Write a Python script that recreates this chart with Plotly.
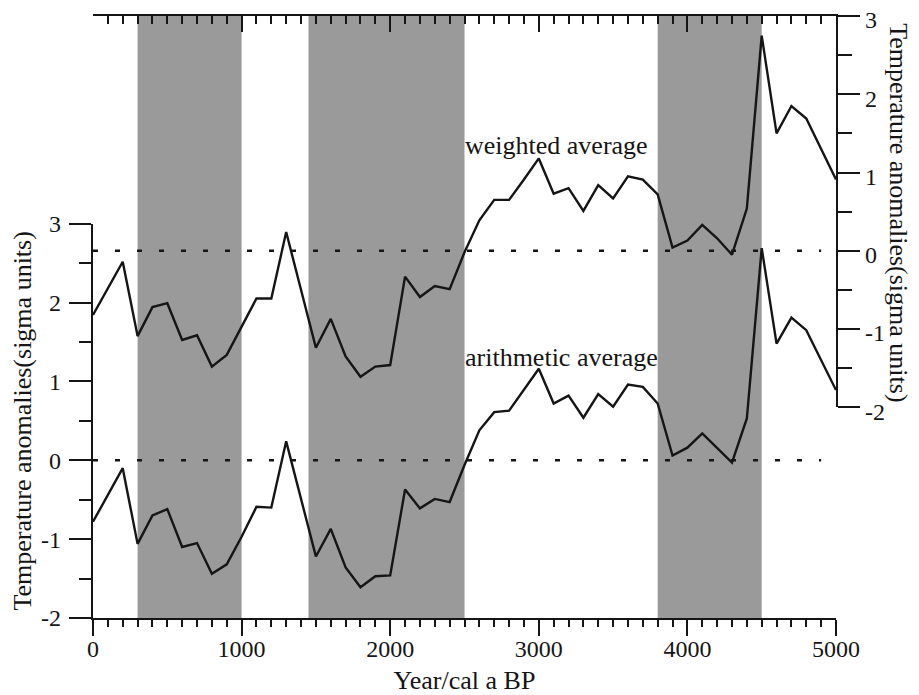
import plotly.graph_objects as go

# ---- data ----
years = [0, 200, 300, 400, 500, 600, 700, 800, 900, 1000, 1100, 1200, 1300, 1500,
         1600, 1700, 1800, 1900, 2000, 2100, 2200, 2300, 2400, 2500, 2600, 2700,
         2800, 2900, 3000, 3100, 3200, 3300, 3400, 3500, 3600, 3700, 3800, 3900,
         4000, 4100, 4200, 4300, 4400, 4500, 4600, 4700, 4800, 4900, 5000]

arithmetic = [-0.78, -0.10, -1.06, -0.70, -0.62, -1.10, -1.05, -1.44, -1.32, -0.97,
              -0.59, -0.60, 0.24, -1.22, -0.87, -1.36, -1.61, -1.47, -1.46, -0.37,
              -0.61, -0.49, -0.53, -0.06, 0.38, 0.61, 0.63, 0.89, 1.16, 0.72, 0.82,
              0.54, 0.84, 0.68, 0.96, 0.93, 0.72, 0.06, 0.16, 0.34, 0.16, -0.03,
              0.53, 2.69, 1.48, 1.81, 1.65, 1.27, 0.89]

weighted = [-0.82, -0.14, -1.09, -0.72, -0.67, -1.14, -1.08, -1.48, -1.33, -0.98,
            -0.61, -0.61, 0.24, -1.24, -0.87, -1.35, -1.61, -1.48, -1.46, -0.33,
            -0.59, -0.45, -0.49, -0.02, 0.39, 0.65, 0.65, 0.91, 1.18, 0.73, 0.80,
            0.51, 0.84, 0.67, 0.95, 0.91, 0.72, 0.04, 0.13, 0.33, 0.16, -0.05,
            0.54, 2.75, 1.50, 1.85, 1.69, 1.30, 0.91]

shade_start = [300, 1450, 3800]
shade_end = [1000, 2500, 4500]

zero_line_end = 4900

x_tickvals = [0, 1000, 2000, 3000, 4000, 5000]
x_ticktext = ["0", "1000", "2000", "3000", "4000", "5000"]
y_tickvals = [-2, -1, 0, 1, 2, 3]
y_ticktext = ["-2", "-1", "0", "1", "2", "3"]

x_title = "Year/cal a BP"
y_title = "Temperature anomalies(sigma units)"
label_weighted = "weighted average"
label_arithmetic = "arithmetic average"

# ---- styling ----
FONT = "Liberation Serif"
INK = "#151515"
SHADE = "#9a9a9a"

fig = go.Figure()

fig.add_trace(go.Scatter(x=years, y=arithmetic, xaxis="x", yaxis="y", mode="lines",
                         line=dict(color=INK, width=2.4), showlegend=False,
                         hoverinfo="skip"))
fig.add_trace(go.Scatter(x=years, y=weighted, xaxis="x2", yaxis="y2", mode="lines",
                         line=dict(color=INK, width=2.4), showlegend=False,
                         hoverinfo="skip"))

for s, e in zip(shade_start, shade_end):
    fig.add_shape(type="rect", xref="x", yref="paper", x0=s, x1=e, y0=0, y1=1,
                  fillcolor=SHADE, line=dict(width=0), layer="below")

fig.add_shape(type="line", xref="x", yref="y", x0=0, x1=zero_line_end, y0=0, y1=0,
              line=dict(color=INK, width=2.4, dash="5px,17px"), layer="below")
fig.add_shape(type="line", xref="x2", yref="y2", x0=0, x1=zero_line_end, y0=0, y1=0,
              line=dict(color=INK, width=2.4, dash="5px,17px"), layer="below")

fig.add_annotation(x=2490, y=1.35, xref="x2", yref="y2", text=label_weighted,
                   showarrow=False, xanchor="left", yanchor="middle",
                   font=dict(family=FONT, size=26, color=INK))
fig.add_annotation(x=2490, y=1.30, xref="x", yref="y", text=label_arithmetic,
                   showarrow=False, xanchor="left", yanchor="middle",
                   font=dict(family=FONT, size=26, color=INK))
fig.add_annotation(x=1.083, y=0.673, xref="paper", yref="paper", text=y_title,
                   showarrow=False, textangle=90, xanchor="center", yanchor="middle",
                   font=dict(family=FONT, size=26, color=INK))

axis_common = dict(showgrid=False, zeroline=False, showline=True, linecolor=INK,
                   linewidth=2.2, tickcolor=INK, tickwidth=2.2, automargin=False,
                   ticklabeloverflow="allow",
                   tickfont=dict(family=FONT, size=24, color=INK))

fig.update_layout(
    width=911, height=687,
    margin=dict(l=85, r=82.5, t=7.5, b=77, autoexpand=False),
    font=dict(family=FONT, color=INK),
    paper_bgcolor="white", plot_bgcolor="rgba(0,0,0,0)",
    xaxis=dict(domain=[0, 1], range=[0, 5000], anchor="y", side="bottom",
               tickmode="array", tickvals=x_tickvals, ticktext=x_ticktext,
               ticks="outside", ticklen=16, ticklabelstandoff=-8,
               minor=dict(tickmode="linear", tick0=0, dtick=100, ticks="outside",
                          ticklen=7, tickwidth=2.2, tickcolor=INK),
               title=dict(text=x_title, font=dict(family=FONT, size=26, color=INK),
                          standoff=10),
               **axis_common),
    xaxis2=dict(domain=[0, 1], range=[0, 5000], anchor="y2", side="top",
                tickmode="array", tickvals=x_tickvals, showticklabels=False,
                ticks="inside", ticklen=16,
                minor=dict(tickmode="linear", tick0=0, dtick=100, ticks="inside",
                           ticklen=8, tickwidth=2.2, tickcolor=INK),
                **axis_common),
    yaxis=dict(domain=[0, 0.655], range=[-2, 3], anchor="x", side="left",
               tickmode="array", tickvals=y_tickvals, ticktext=y_ticktext,
               ticks="outside", ticklen=22, ticklabelstandoff=3,
               minor=dict(tickmode="linear", tick0=-2, dtick=0.5, ticks="outside",
                          ticklen=12, tickwidth=2.2, tickcolor=INK),
               title=dict(text=y_title, font=dict(family=FONT, size=26, color=INK),
                          standoff=8),
               **axis_common),
    yaxis2=dict(domain=[0.35, 1], range=[-2, 3], anchor="x2", side="right",
                tickmode="array", tickvals=y_tickvals, ticktext=y_ticktext,
                ticks="outside", ticklen=22, ticklabelstandoff=0, ticklabelshift=4,
                minor=dict(tickmode="linear", tick0=-2, dtick=0.5, ticks="outside",
                           ticklen=14, tickwidth=2.2, tickcolor=INK),
                **axis_common),
)

fig.write_html("out.html")
